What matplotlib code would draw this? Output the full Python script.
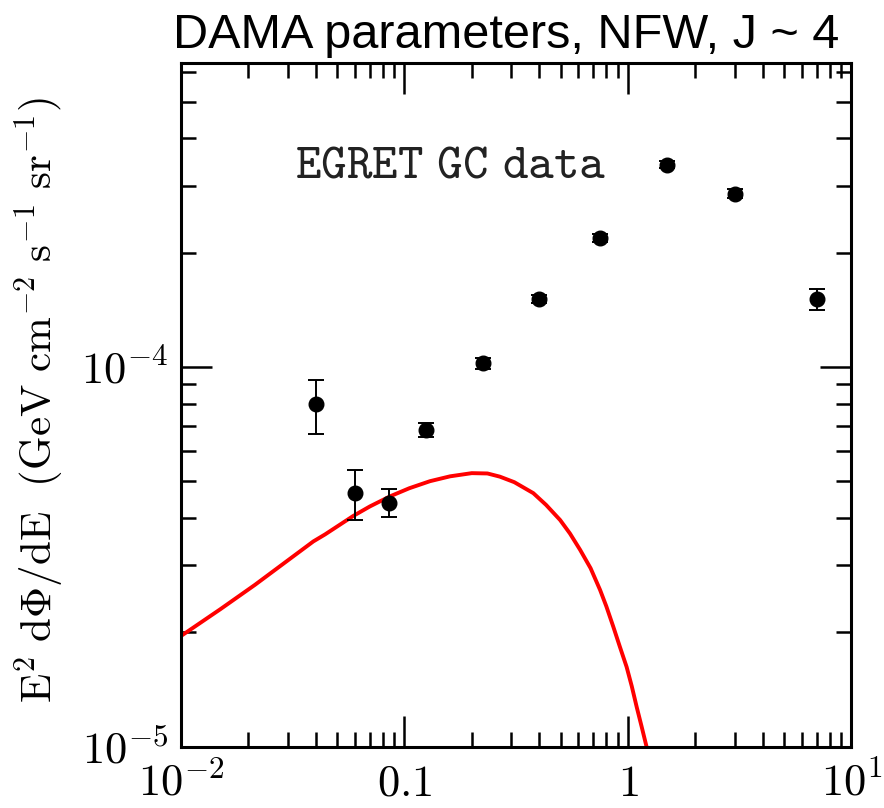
import numpy as np
import matplotlib
matplotlib.use("Agg")
from matplotlib import pyplot as plt
from matplotlib.ticker import FixedLocator, FixedFormatter, NullFormatter

plt.rcParams['mathtext.fontset'] = 'cm'

# EGRET galactic centre points (GeV, GeV cm^-2 s^-1 sr^-1)
egret_E = [0.040, 0.060, 0.085, 0.125, 0.225, 0.40, 0.75, 1.5, 3.0, 7.0]
egret_flux = [8.0e-5, 4.65e-5, 4.37e-5, 6.82e-5, 1.024e-4, 1.508e-4, 2.18e-4, 3.41e-4, 2.86e-4, 1.508e-4]
egret_lo = [6.66e-5, 3.94e-5, 4.03e-5, 6.53e-5, 0.99e-4, 1.47e-4, 2.13e-4, 3.34e-4, 2.78e-4, 1.41e-4]
egret_hi = [9.22e-5, 5.36e-5, 4.76e-5, 7.13e-5, 1.055e-4, 1.55e-4, 2.24e-4, 3.49e-4, 2.95e-4, 1.602e-4]

# model curve
model_E = [0.01, 0.015, 0.0214, 0.03, 0.0391, 0.0441, 0.059, 0.07, 0.0861, 0.105, 0.13, 0.16,
           0.20, 0.235, 0.267, 0.31, 0.377, 0.43, 0.497, 0.55, 0.61, 0.68, 0.75,
           0.80, 0.859, 0.92, 0.986, 1.04, 1.094, 1.15, 1.21, 1.26]
model_flux = [1.955e-5, 2.3e-5, 2.665e-5, 3.09e-5, 3.47e-5, 3.62e-5, 4.05e-5, 4.29e-5, 4.56e-5, 4.79e-5, 5.0e-5, 5.15e-5,
              5.25e-5, 5.24e-5, 5.14e-5, 4.97e-5, 4.65e-5, 4.33e-5, 3.95e-5, 3.64e-5, 3.30e-5, 2.95e-5, 2.585e-5,
              2.34e-5, 2.07e-5, 1.83e-5, 1.62e-5, 1.44e-5, 1.27e-5, 1.13e-5, 1.0e-5, 0.9e-5]

xticks = [0.01, 0.1, 1, 10]
xticklabels = [r'$10^{-2}$', r'$0.1$', r'$1$', r'$10^{1}$']
yticks = [1e-5, 1e-4]
yticklabels = [r'$10^{-5}$', r'$10^{-4}$']

fig = plt.figure(figsize=(8.84, 8.08), dpi=100)
ax = fig.add_axes([181/884, 1-746.5/808, 670.5/884, 683.5/808])

ax.set_xscale('log')
ax.set_yscale('log')
ax.set_xlim(0.01, 10)
ax.set_ylim(1e-5, 6.32e-4)

ax.plot(model_E, model_flux, color='#ff0000', lw=2.8, solid_joinstyle='round')

yerr = [np.array(egret_flux) - np.array(egret_lo), np.array(egret_hi) - np.array(egret_flux)]
ax.errorbar(egret_E, egret_flux, yerr=yerr, fmt='o', color='black', ms=10.5,
            elinewidth=1.4, capsize=6, capthick=1.4)

ax.text((295-181)/670.5, (746.5-178)/683.5, r'$\mathtt{EGRET\ GC\ data}$',
        transform=ax.transAxes, fontsize=35, va='baseline', ha='left', color='#222222')

# ticks
ax.xaxis.set_major_locator(FixedLocator(xticks))
ax.xaxis.set_major_formatter(FixedFormatter(xticklabels))
xminor = [m * 10.0**d for d in range(-2, 1) for m in range(2, 10)]
ax.xaxis.set_minor_locator(FixedLocator(xminor))
ax.xaxis.set_minor_formatter(NullFormatter())
ax.yaxis.set_major_locator(FixedLocator(yticks))
ax.yaxis.set_major_formatter(FixedFormatter(yticklabels))
yminor = [m * 1e-5 for m in range(2, 10)] + [m * 1e-4 for m in range(2, 7)]
ax.yaxis.set_minor_locator(FixedLocator(yminor))
ax.yaxis.set_minor_formatter(NullFormatter())

ax.tick_params(which='both', direction='in', top=True, right=True, width=1.8)
ax.tick_params(which='major', length=22)
ax.tick_params(which='minor', length=11)
ax.tick_params(axis='x', which='major', labelsize=32, pad=11)
ax.tick_params(axis='y', which='major', labelsize=32, pad=9)
for s in ax.spines.values():
    s.set_linewidth(2.2)

fig.text(40/884, 0.5 + (808/2 - 400)/808,
         r'$\mathrm{E^2\ d\Phi/dE\ \ (GeV\ cm^{-2}\ s^{-1}\ sr^{-1})}$',
         rotation=90, fontsize=31, ha='center', va='center')

fig.text(506/884, 1 - 48/808, 'DAMA parameters, NFW, J ~ 4',
         fontsize=35, family='Liberation Sans', ha='center', va='baseline')

fig.savefig('out.png', dpi=100)
